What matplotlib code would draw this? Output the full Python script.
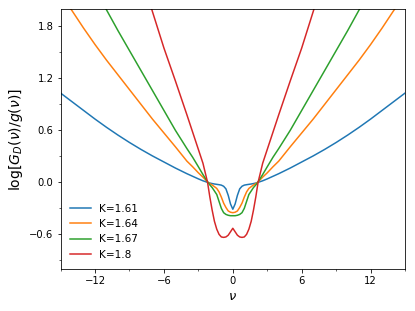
import matplotlib
matplotlib.use("Agg")
import matplotlib.pyplot as plt
from matplotlib.ticker import MultipleLocator

# frequency grid (nu)
nu = [-15, -14, -13, -12, -11, -10, -9, -8, -7, -6, -5, -4, -3.5, -3, -2.6, -2.2,
      -2.0, -1.8, -1.6, -1.4, -1.2, -1.0, -0.8, -0.6, -0.4, -0.2, 0,
      0.2, 0.4, 0.6, 0.8, 1.0, 1.2, 1.4, 1.6, 1.8, 2.0,
      2.2, 2.6, 3, 3.5, 4, 5, 6, 7, 8, 9, 10, 11, 12, 13, 14, 15]

k161 = [1.03, 0.93, 0.83, 0.73, 0.635, 0.545, 0.46, 0.38, 0.305, 0.235, 0.165, 0.10, 0.07, 0.04, 0.018, 0.0,
        -0.008, -0.014, -0.019, -0.023, -0.027, -0.032, -0.045, -0.075, -0.15, -0.25, -0.31,
        -0.25, -0.15, -0.075, -0.045, -0.032, -0.027, -0.023, -0.019, -0.014, -0.008,
        0.0, 0.018, 0.04, 0.07, 0.10, 0.165, 0.235, 0.305, 0.38, 0.46, 0.545, 0.635, 0.73, 0.83, 0.93, 1.03]

k164 = [2.17, 1.98, 1.78, 1.59, 1.41, 1.24, 1.07, 0.90, 0.73, 0.57, 0.41, 0.245, 0.18, 0.11, 0.06, 0.005,
        -0.015, -0.03, -0.05, -0.07, -0.11, -0.17, -0.24, -0.29, -0.33, -0.345, -0.35,
        -0.345, -0.33, -0.29, -0.24, -0.17, -0.11, -0.07, -0.05, -0.03, -0.015,
        0.005, 0.06, 0.11, 0.18, 0.245, 0.41, 0.57, 0.73, 0.90, 1.07, 1.24, 1.41, 1.59, 1.78, 1.98, 2.17]

k167 = [2.9, 2.67, 2.45, 2.22, 1.99, 1.75, 1.52, 1.29, 1.06, 0.83, 0.60, 0.39, 0.29, 0.18, 0.09, 0.005,
        -0.03, -0.06, -0.10, -0.14, -0.22, -0.30, -0.35, -0.37, -0.38, -0.385, -0.385,
        -0.385, -0.38, -0.37, -0.35, -0.30, -0.22, -0.14, -0.10, -0.06, -0.03,
        0.005, 0.09, 0.18, 0.29, 0.39, 0.60, 0.83, 1.06, 1.29, 1.52, 1.75, 1.99, 2.22, 2.45, 2.67, 2.9]

k180 = [5.55, 5.1, 4.65, 4.2, 3.75, 3.3, 2.85, 2.4, 1.97, 1.55, 1.17, 0.78, 0.58, 0.38, 0.22, 0.0,
        -0.17, -0.32, -0.45, -0.54, -0.60, -0.63, -0.635, -0.63, -0.61, -0.57, -0.53,
        -0.57, -0.61, -0.63, -0.635, -0.63, -0.60, -0.54, -0.45, -0.32, -0.17,
        0.0, 0.22, 0.38, 0.58, 0.78, 1.17, 1.55, 1.97, 2.4, 2.85, 3.3, 3.75, 4.2, 4.65, 5.1, 5.55]

labels = ["K=1.61", "K=1.64", "K=1.67", "K=1.8"]

fig = plt.figure(figsize=(415 / 72, 311 / 72), dpi=72)
ax = fig.add_axes([0.146, 0.135, 0.83, 0.836])

for y, lab in zip([k161, k164, k167, k180], labels):
    ax.plot(nu, y, label=lab, lw=1.5)

ax.set_xlim(-15, 15)
ax.set_ylim(-1, 2)
ax.xaxis.set_major_locator(MultipleLocator(6))
ax.xaxis.set_minor_locator(MultipleLocator(3))
ax.yaxis.set_major_locator(MultipleLocator(0.6))
ax.yaxis.set_minor_locator(MultipleLocator(0.3))
ax.tick_params(labelsize=10)
ax.set_xlabel(r"$\nu$", fontsize=13)
ax.set_ylabel(r"$\log[G_D(\nu)/g(\nu)]$", fontsize=14)
ax.legend(loc="lower left", frameon=False, fontsize=10.5)

fig.savefig("out.png", dpi=72)
